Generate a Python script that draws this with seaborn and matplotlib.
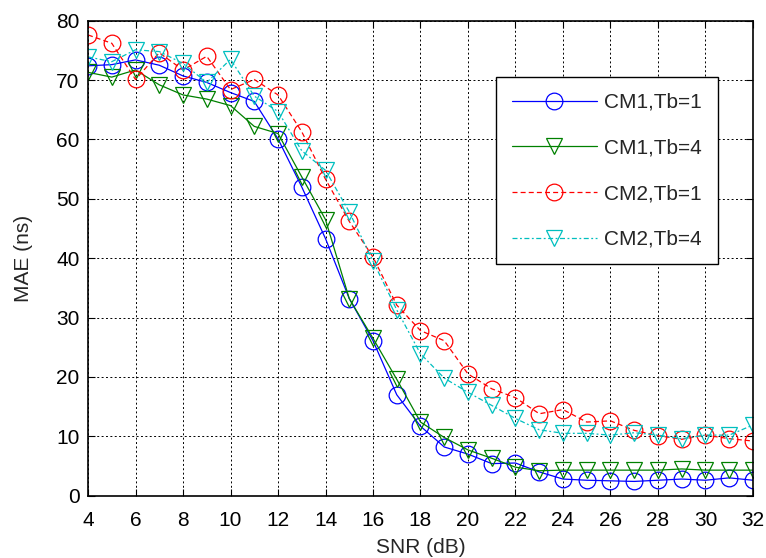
import matplotlib
matplotlib.use("Agg")
import matplotlib.pyplot as plt
import seaborn as sns
import numpy as np

# SNR axis (dB)
snr = list(range(4, 33))

# Mean absolute error (ns) for each channel model / Tb setting
mae_cm1_tb1 = [72.4, 72.6, 73.4, 72.5, 70.7, 69.6, 67.9, 66.4, 60.1, 52.0,
               43.3, 33.2, 26.1, 17.0, 11.7, 8.2, 7.0, 5.4, 5.5, 4.0,
               2.8, 2.6, 2.5, 2.4, 2.6, 2.8, 2.6, 3.0, 2.6]
mae_cm1_tb4 = [71.3, 70.5, 71.7, 69.2, 67.5, 66.8, 65.7, 62.2, 61.0, 53.7,
               46.5, 33.2, 26.5, 19.6, 12.4, 9.8, 7.7, 6.3, 4.8, 4.2,
               4.3, 4.3, 4.3, 4.3, 4.3, 4.5, 4.3, 4.3, 4.3]
mae_cm2_tb1 = [77.6, 76.2, 70.1, 74.6, 71.7, 74.0, 68.4, 70.1, 67.5, 61.3,
               53.3, 46.2, 40.2, 32.1, 27.8, 26.1, 20.5, 18.0, 16.5, 13.8,
               14.5, 12.4, 12.6, 11.0, 10.1, 9.5, 10.2, 9.6, 9.2]
mae_cm2_tb4 = [73.9, 73.1, 75.1, 74.8, 72.8, 69.6, 73.5, 67.3, 64.7, 58.1,
               54.8, 47.8, 39.5, 31.3, 23.9, 19.8, 17.4, 15.2, 13.0, 11.1,
               10.5, 10.5, 10.2, 10.6, 10.2, 9.6, 10.2, 10.2, 11.9]

labels = ["CM1,Tb=1", "CM1,Tb=4", "CM2,Tb=1", "CM2,Tb=4"]
x_ticks = list(range(4, 33, 2))
y_ticks = list(range(0, 81, 10))

sns.set_style("white")
plt.rcParams["font.family"] = ["Liberation Sans", "DejaVu Sans"]

fig = plt.figure(figsize=(7.66, 5.58), dpi=100)
ax = fig.add_axes([0.1149, 0.1117, 0.8681, 0.8512])

series = [
    (mae_cm1_tb1, "#0000ff", "o", "-"),
    (mae_cm1_tb4, "#008000", "v", "-"),
    (mae_cm2_tb1, "#ff0000", "o", (0, (4, 2.5))),
    (mae_cm2_tb4, "#00bfbf", "v", (0, (4, 2, 1.5, 2))),
]

for (vals, color, mk, ls), lab in zip(series, labels):
    sns.lineplot(x=snr, y=vals, ax=ax, color=color, marker=mk, linestyle=ls,
                 linewidth=0.9, markersize=12, markerfacecolor="none",
                 markeredgecolor=color, markeredgewidth=0.9, label=lab)

ax.set_xlim(4, 32)
ax.set_ylim(0, 80)
ax.set_xticks(x_ticks)
ax.set_yticks(y_ticks)
ax.grid(True, color="black", linestyle=(0, (2, 2.5)), linewidth=0.7)
ax.set_axisbelow(True)
for sp in ax.spines.values():
    sp.set_visible(True)
    sp.set_color("black")
    sp.set_linewidth(1.2)
ax.tick_params(direction="in", length=5, width=0.8, labelsize=15,
               top=True, right=True, bottom=True, left=True, colors="black")
ax.tick_params(axis="x", pad=11)
ax.tick_params(axis="y", pad=6)
ax.set_xlabel("SNR (dB)", fontsize=15, labelpad=6)
ax.set_ylabel("MAE (ns)", fontsize=15, labelpad=17)

leg = ax.legend(loc="upper right", bbox_to_anchor=(0.947, 0.881),
                fontsize=15, frameon=True, fancybox=False, shadow=False,
                handlelength=4.1, handletextpad=0.35, labelspacing=1.28,
                borderpad=0.75, borderaxespad=0.0)
leg.get_frame().set_edgecolor("black")
leg.get_frame().set_linewidth(1.0)
leg.get_frame().set_alpha(1.0)

fig.savefig("out.png", dpi=100)
